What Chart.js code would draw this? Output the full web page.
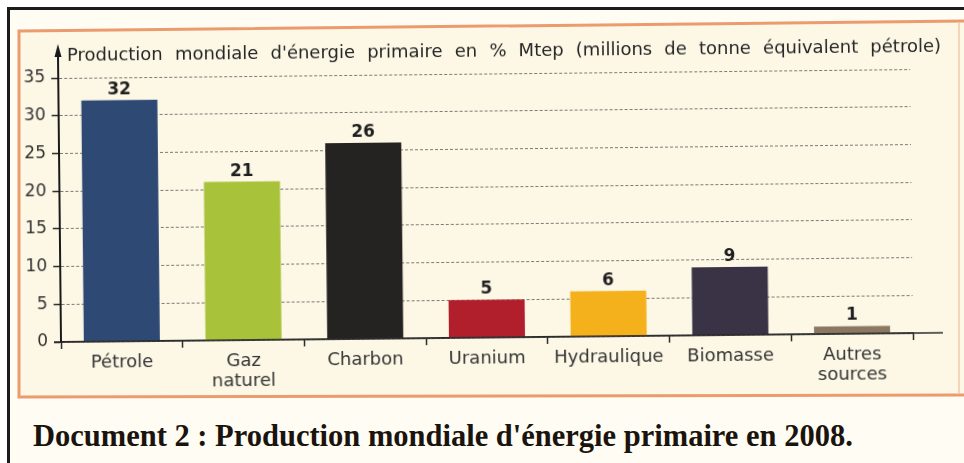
<!DOCTYPE html>
<html lang="fr">
<head>
<meta charset="utf-8">
<title>Production mondiale d'énergie primaire en 2008</title>
<script src="https://cdn.jsdelivr.net/npm/chart.js@4.4.1/dist/chart.umd.min.js"></script>
<style>
  html, body { margin: 0; padding: 0; overflow: hidden; }
  body { width: 964px; height: 463px; position: relative; background: #fff; }
  .frame { position: absolute; left: 7px; top: 7px; width: 1100px; height: 600px;
           border-left: 3px solid #1c1c1c; border-top: 3px solid #1c1c1c; background: #fffdf3; }
  .panel { position: absolute; left: 0; top: 0; }
  .caption { position: absolute; left: 33px; top: 421px; white-space: nowrap;
             font: bold 30.5px/30px "Liberation Serif", "Times New Roman", serif; color: #1b140e; }
  .wrap { position: absolute; left: 0; top: 0; width: 964px; height: 463px;
          transform: rotate(-0.6deg); transform-origin: 61px 342px; }
</style>
</head>
<body>
<div class="frame"></div>
<svg class="panel" width="964" height="463">
  <polygon points="19,31 975,21 975,395 19,397" fill="#fdf8e6" stroke="#ec9b6e" stroke-width="3"/>
  <line x1="959" y1="23" x2="959" y2="394" stroke="#f3c9a8" stroke-width="1.5"/>
</svg>
<div class="caption">Document 2 : Production mondiale d'énergie primaire en 2008.</div>
<div class="wrap"><canvas id="chart" width="964" height="463"></canvas></div>

<script>
// --- Data ---
const categories = ['Pétrole', ['Gaz', 'naturel'], 'Charbon', 'Uranium', 'Hydraulique', 'Biomasse', ['Autres', 'sources']];
const values = [32, 21, 26, 5, 6, 9, 1];
const barColors = ['#2e4a74', '#a8c23a', '#252321', '#b11f2d', '#f4b11c', '#3a3245', '#8b7762'];
const yTicks = [0, 5, 10, 15, 20, 25, 30, 35];
const axisTitle = "Production mondiale d'énergie primaire en % Mtep (millions de tonne équivalent pétrole)";

const INK = '#2b2b2b';

// --- Axis arrow, baseline, justified axis title, value labels ---
const decor = {
  id: 'decor',
  afterDatasetsDraw(chart) {
    const { ctx } = chart;
    const meta = chart.getDatasetMeta(0);
    ctx.save();
    ctx.fillStyle = '#1e1e1e';
    ctx.font = 'bold 17px "DejaVu Sans", sans-serif';
    ctx.textAlign = 'center';
    ctx.textBaseline = 'alphabetic';
    meta.data.forEach((bar, i) => ctx.fillText(String(values[i]), bar.x, bar.y - 6));
    ctx.restore();
  },
  afterDraw(chart) {
    const { ctx, chartArea: a } = chart;
    ctx.save();
    // x baseline (runs a bit past the last category)
    ctx.strokeStyle = INK;
    ctx.lineWidth = 1.5;
    ctx.beginPath();
    ctx.moveTo(a.left - 7, a.bottom);
    ctx.lineTo(a.right + 30, a.bottom);
    ctx.stroke();
    // y axis up to the arrow
    ctx.strokeStyle = '#1a1a1a';
    ctx.lineWidth = 2;
    ctx.beginPath();
    ctx.moveTo(a.left, a.bottom);
    ctx.lineTo(a.left, 54);
    ctx.stroke();
    ctx.fillStyle = '#1a1a1a';
    ctx.beginPath();
    ctx.moveTo(a.left, 44);
    ctx.lineTo(a.left - 3.5, 57);
    ctx.lineTo(a.left + 3.5, 57);
    ctx.closePath();
    ctx.fill();
    // axis title, words spread to the right edge
    ctx.font = '18px "DejaVu Sans", sans-serif';
    ctx.fillStyle = '#262626';
    ctx.textAlign = 'left';
    ctx.textBaseline = 'alphabetic';
    const words = axisTitle.split(' ');
    const widths = words.map(w => ctx.measureText(w).width);
    const startX = 70, endX = 944;
    const gap = (endX - startX - widths.reduce((s, w) => s + w, 0)) / (words.length - 1);
    let xx = startX;
    words.forEach((w, i) => { ctx.fillText(w, xx, 61); xx += widths[i] + gap; });
    ctx.restore();
  }
};

new Chart(document.getElementById('chart'), {
  type: 'bar',
  data: {
    labels: categories,
    datasets: [{
      data: values,
      backgroundColor: barColors,
      borderWidth: 0,
      categoryPercentage: 1,
      barPercentage: 0.625
    }]
  },
  options: {
    responsive: false,
    animation: false,
    layout: { padding: { top: 78, right: 51, bottom: 0, left: 0 } },
    plugins: { legend: { display: false }, tooltip: { enabled: false } },
    scales: {
      x: {
        afterFit: s => { s.height = 121; },
        grid: { display: true, drawOnChartArea: false, drawTicks: true, tickLength: 7,
                tickColor: INK, tickWidth: 1.5, offset: true },
        border: { color: INK, width: 1.5 },
        ticks: { color: '#333', padding: 4, maxRotation: 0, autoSkip: false,
                 font: { family: '"DejaVu Sans", sans-serif', size: 18, lineHeight: 1.12 } }
      },
      y: {
        min: 0, max: 35,
        afterFit: s => { s.width = 61; },
        afterBuildTicks: s => { s.ticks = yTicks.map(v => ({ value: v })); },
        grid: { color: 'rgba(90,90,90,0.8)', lineWidth: 1, tickLength: 7,
                tickColor: INK, tickWidth: 1.5, tickBorderDash: [] },
        border: { color: '#1a1a1a', width: 2, dash: [3, 2] },
        ticks: { color: '#333', padding: 6,
                 font: { family: '"DejaVu Sans", sans-serif', size: 17 } }
      }
    }
  },
  plugins: [decor]
});
</script>
</body>
</html>
